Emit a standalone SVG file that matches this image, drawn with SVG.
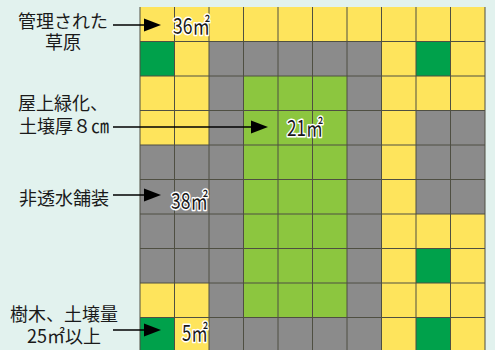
<svg xmlns="http://www.w3.org/2000/svg" width="495" height="350" viewBox="0 0 495 350">
<defs>
<style>
.y{fill:#FEE45C}.g{fill:#8B8B8B}.l{fill:#8CC63F}.d{fill:#00A14B}
.grid{stroke:#4F4F42;stroke-width:1;fill:none}
.lbl{font-family:"Noto Sans CJK JP","Noto Sans",sans-serif;font-size:18px;fill:#1a1a1a;text-anchor:middle}
.num{font-family:"Noto Sans CJK JP","Noto Sans",sans-serif;font-size:22px;fill:#1a1a1a;stroke:#ffffff;stroke-width:3;stroke-linejoin:round;paint-order:stroke}
.conn{stroke:#000;stroke-width:1.6;fill:none}
</style>
</defs>
<rect width="495" height="350" fill="#E2F2EE"/>
<g id="grid">
<g id="row0">
<rect class="y" x="140" y="7" width="345" height="34.5"/>
</g>
<g id="row1">
<rect class="d" x="140" y="41.5" width="34.5" height="34.5"/>
<rect class="y" x="174.5" y="41.5" width="34.5" height="34.5"/>
<rect class="g" x="209" y="41.5" width="172.5" height="34.5"/>
<rect class="y" x="381.5" y="41.5" width="34.5" height="34.5"/>
<rect class="d" x="416" y="41.5" width="34.5" height="34.5"/>
<rect class="y" x="450.5" y="41.5" width="34.5" height="34.5"/>
</g>
<g id="rows2to8">
<rect class="y" x="140" y="76" width="69" height="69"/>
<rect class="g" x="140" y="145" width="69" height="138"/>
<rect class="y" x="140" y="283" width="69" height="34.5"/>
<rect class="g" x="209" y="76" width="34.5" height="241.5"/>
<rect class="l" x="243.5" y="76" width="103.5" height="241.5"/>
<rect class="g" x="347" y="76" width="34.5" height="241.5"/>
<rect class="y" x="381.5" y="76" width="34.5" height="241.5"/>
<rect class="y" x="416" y="76" width="69" height="34.5"/>
<rect class="g" x="416" y="110.5" width="69" height="103.5"/>
<rect class="y" x="416" y="214" width="69" height="103.5"/>
<rect class="d" x="416" y="248.5" width="34.5" height="34.5"/>
</g>
<g id="row9">
<rect class="d" x="140" y="317.5" width="34.5" height="34.5"/>
<rect class="y" x="174.5" y="317.5" width="34.5" height="34.5"/>
<rect class="g" x="209" y="317.5" width="172.5" height="34.5"/>
<rect class="y" x="381.5" y="317.5" width="34.5" height="34.5"/>
<rect class="d" x="416" y="317.5" width="34.5" height="34.5"/>
<rect class="y" x="450.5" y="317.5" width="34.5" height="34.5"/>
</g>
<path class="grid" d="M140,7V350 M174.5,7V350 M209,7V350 M243.5,7V350 M278,7V350 M312.5,7V350 M347,7V350 M381.5,7V350 M416,7V350 M450.5,7V350 M485,7V350 M140,41.5H485 M140,76H485 M140,110.5H485 M140,145H485 M140,179.5H485 M140,214H485 M140,248.5H485 M140,283H485 M140,317.5H485"/>
</g>
<g id="connectors">
<path class="conn" d="M113,25H150"/>
<path d="M144,18.5 L161,25 L144,31.5 Z" fill="#000000"/>
<path class="conn" d="M113,127H258"/>
<path d="M251,120.5 L268,127 L251,133.5 Z" fill="#000000"/>
<path class="conn" d="M113,195H150"/>
<path d="M144,188.5 L161,195 L144,201.5 Z" fill="#000000"/>
<path class="conn" d="M113,330H150"/>
<path d="M144,323.5 L161,330 L144,336.5 Z" fill="#000000"/>
</g>
<g id="label-grass">
<text class="lbl" x="63" y="28">管理された</text>
<text class="lbl" x="63" y="49">草原</text>
</g>
<g id="label-roof">
<text class="lbl" x="63" y="110">屋上緑化、</text>
<text class="lbl" x="64" y="133">土壌厚８㎝</text>
</g>
<g id="label-paving">
<text class="lbl" x="64" y="205">非透水舗装</text>
</g>
<g id="label-tree">
<text class="lbl" x="64" y="321">樹木、土壌量</text>
<text class="lbl" x="64" y="343">25㎡以上</text>
</g>
<g id="area-36"><text class="num" x="173" y="34" textLength="37" lengthAdjust="spacingAndGlyphs">36㎡</text></g>
<g id="area-21"><text class="num" x="287" y="136" textLength="36" lengthAdjust="spacingAndGlyphs">21㎡</text></g>
<g id="area-38"><text class="num" x="171" y="209" textLength="37" lengthAdjust="spacingAndGlyphs">38㎡</text></g>
<g id="area-5"><text class="num" x="182" y="341" textLength="26" lengthAdjust="spacingAndGlyphs">5㎡</text></g>
</svg>
